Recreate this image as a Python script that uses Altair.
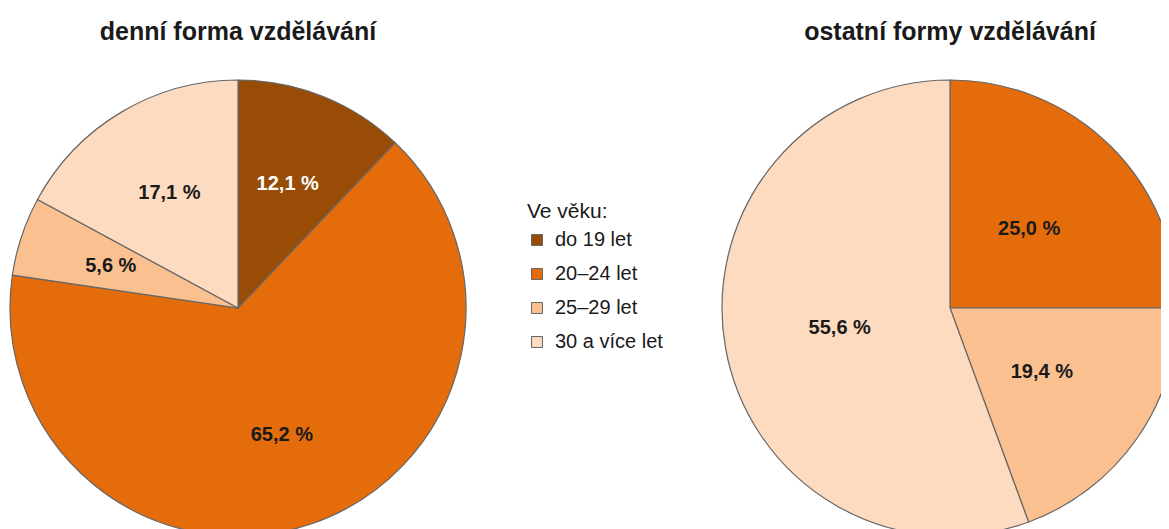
import altair as alt
import pandas as pd

categories = ["do 19 let", "20–24 let", "25–29 let", "30 a více let"]
denni = [12.1, 65.2, 5.6, 17.1]
ostatni = [0.0, 25.0, 19.4, 55.6]
colors = ["#994C06", "#E46C0A", "#FAC090", "#FDDBC0"]
titles = ["denní forma vzdělávání", "ostatní formy vzdělávání"]
legend_title = "Ve věku:"

FONT = "Liberation Sans"


def make_df(values):
    df = pd.DataFrame({"cat": categories, "idx": list(range(len(categories))), "value": values})
    df["label"] = df["value"].map(lambda v: f"{v:.1f}".replace(".", ",") + " %")
    return df[df["value"] > 0]


color_enc = alt.Color(
    "cat:N",
    scale=alt.Scale(domain=categories, range=colors),
    sort=categories,
    legend=alt.Legend(
        title=legend_title,
        orient="none",
        legendX=519,
        legendY=193,
        symbolType="square",
        symbolSize=120,
        symbolStrokeColor="#666666",
        symbolStrokeWidth=1,
        labelFontSize=20,
        titleFontSize=21,
        titleFontWeight="normal",
        labelFont=FONT,
        titleFont=FONT,
        labelColor="#1a1a1a",
        titleColor="#1a1a1a",
        rowPadding=14,
        titlePadding=8,
        labelOffset=8,
    ),
)


def pie(values, cx, cy, label_r, title):
    df = make_df(values)
    base = alt.Chart(df).encode(
        theta=alt.Theta("value:Q", stack=True, scale=alt.Scale(domain=[0, 100])),
        order=alt.Order("idx:Q"),
    )
    arcs = base.mark_arc(outerRadius=228, stroke="#666666", strokeWidth=1.2).encode(
        color=color_enc, x=alt.value(cx), y=alt.value(cy)
    )
    labels = base.mark_text(
        radius=label_r, fontSize=20, fontWeight="bold", font=FONT
    ).encode(
        text="label:N",
        x=alt.value(cx),
        y=alt.value(cy),
        color=alt.condition(
            alt.datum.cat == categories[0], alt.value("#ffffff"), alt.value("#1a1a1a")
        ),
    )
    ttl = alt.Chart(pd.DataFrame({"t": [title]})).mark_text(
        fontSize=25, fontWeight="bold", font=FONT, color="#1a1a1a", baseline="middle"
    ).encode(text="t:N", x=alt.value(cx), y=alt.value(24))
    return [arcs, labels, ttl]


layers = pie(denni, 230, 300, 134, titles[0]) + pie(ostatni, 942, 300, 112, titles[1])

chart = (
    alt.layer(*layers)
    .resolve_scale(theta="independent")
    .properties(width=1153, height=540, padding=0, autosize=alt.AutoSizeParams(type="none"))
    .configure_view(stroke=None)
)

chart.save("out.html", embed_options={"renderer": "svg", "actions": False})
